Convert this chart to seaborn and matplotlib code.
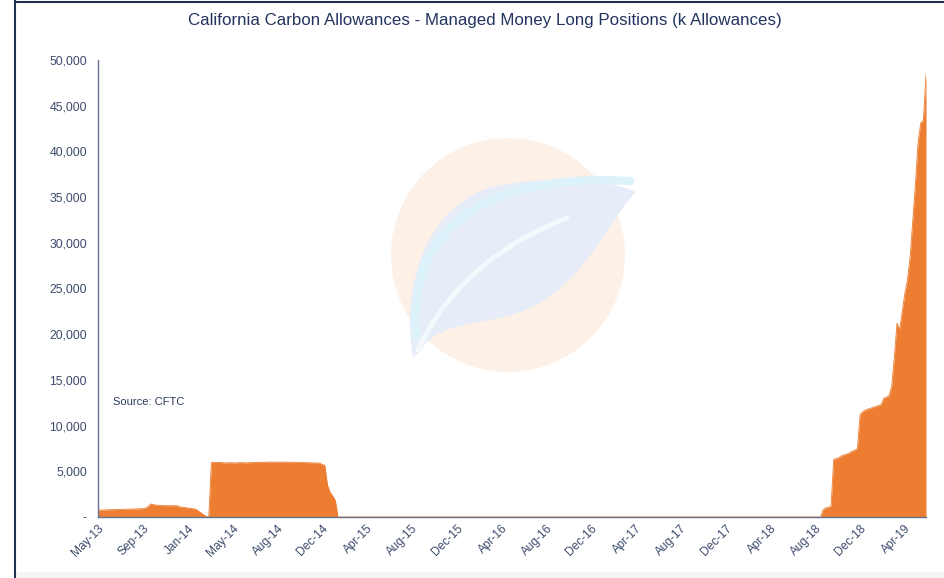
import numpy as np
import pandas as pd
import matplotlib
matplotlib.use("Agg")
import matplotlib.pyplot as plt
import seaborn as sns
from matplotlib.patches import Ellipse, PathPatch, Rectangle
from matplotlib.path import Path
from matplotlib.lines import Line2D

# Weekly managed money long positions (k allowances), May-13 .. Jun-19
early_2013 = [750, 760, 770, 780, 790, 800, 810, 815, 820, 830, 840, 850,
              860, 870, 880, 890, 900, 910, 950, 1150, 1420, 1350, 1300, 1270,
              1250, 1240, 1240, 1240, 1230, 1240, 1230, 1100, 1070, 1030, 990,
              950, 910, 860, 660, 460, 260, 80, 0]
block_2014 = [5950, 5960, 5980, 5970, 5940, 5930, 5920, 5940, 5930, 5920,
              5940, 5950, 5940, 5930, 5940, 5950, 5960, 5980, 5990, 6000,
              6010, 6000, 6010, 6020, 6010, 6000, 6010, 6000, 6010, 6000,
              5990, 5980, 5990, 5980, 5970, 5960, 5950, 5940, 5930, 5930,
              5920, 5900, 5750, 5650, 3500, 2700, 2300, 1800, 0]
flat_2015_2018 = [0] * 183
late_2018_2019 = [800, 1000, 1050, 1200, 6300, 6400, 6500, 6700, 6800, 6900,
                  7000, 7200, 7300, 7500, 11200, 11500, 11700, 11800, 11900,
                  12000, 12100, 12200, 12300, 13000, 13100, 13300, 14300,
                  17500, 21200, 20500, 22500, 24500, 26000, 28500, 32500,
                  36500, 41000, 43100, 43400, 48400]

long_positions = early_2013 + block_2014 + flat_2015_2018 + late_2018_2019

tick_labels = ["May-13", "Sep-13", "Jan-14", "May-14", "Aug-14", "Dec-14",
               "Apr-15", "Aug-15", "Dec-15", "Apr-16", "Aug-16", "Dec-16",
               "Apr-17", "Aug-17", "Dec-17", "Apr-18", "Aug-18", "Dec-18",
               "Apr-19"]
weeks_per_label = 17

y_ticks = [0, 5000, 10000, 15000, 20000, 25000, 30000, 35000, 40000, 45000, 50000]
y_tick_labels = ["-"] + [f"{v:,}" for v in y_ticks[1:]]

df = pd.DataFrame({"week": np.arange(len(long_positions)), "long": long_positions})

sns.set_theme(style="white")
plt.rcParams["font.family"] = ["Liberation Sans", "DejaVu Sans"]

W, H = 945, 578
fig = plt.figure(figsize=(W / 100, H / 100), dpi=100)
fig.patch.set_facecolor("white")


def px(x, y):
    return (x / W, 1 - y / H)


def curve(points, codes, **kw):
    return PathPatch(Path([px(*p) for p in points], codes), transform=fig.transFigure, **kw)


M, C4, CL = Path.MOVETO, Path.CURVE4, Path.CLOSEPOLY

# watermark logo (faint circle + leaf)
fig.patches.append(Ellipse(px(508, 255), 234 / W, 234 / H, transform=fig.transFigure,
                           facecolor="#FDF0E6", edgecolor="none", zorder=0))
leaf = [(413, 357), (400, 280), (430, 200), (500, 185), (560, 175), (610, 180),
        (636, 192), (600, 230), (580, 300), (500, 318), (460, 325), (430, 330),
        (420, 352), (413, 357)]
fig.patches.append(curve(leaf, [M, C4, C4, C4, C4, C4, C4, C4, C4, C4, C4, C4, C4, CL],
                         facecolor="#E6EDF8", edgecolor="none", zorder=0))
fig.patches.append(curve([(416, 335), (408, 240), (470, 172), (630, 181)], [M, C4, C4, C4],
                         facecolor="none", edgecolor="#DDF3FB", lw=6, capstyle="round", zorder=0))
fig.patches.append(curve([(418, 350), (450, 280), (510, 240), (567, 218)], [M, C4, C4, C4],
                         facecolor="none", edgecolor="#F2FAFD", lw=3.5, capstyle="round", zorder=0))

# frame of the screenshot
fig.add_artist(Line2D([15 / W, 15 / W], [0, 1], transform=fig.transFigure, color="#1F2F50", lw=1.5))
fig.add_artist(Line2D([15 / W, 1], [1 - 2 / H, 1 - 2 / H], transform=fig.transFigure, color="#1F2F50", lw=1.5))
fig.patches.append(Rectangle((16 / W, 0), 1, 6 / H, transform=fig.transFigure,
                             facecolor="#F3F5F7", edgecolor="none", zorder=0))

ax = fig.add_axes([98 / W, 1 - 517 / H, (926 - 98) / W, (517 - 60) / H])
ax.patch.set_alpha(0)

orange = "#ED7D31"
ax.fill_between(df["week"], 0, df["long"], color=orange, linewidth=0, zorder=2)
sns.lineplot(data=df, x="week", y="long", ax=ax, color=orange, lw=0.6, zorder=3)

ax.set_xlim(0, len(long_positions) - 1)
ax.set_ylim(0, 50000)

tick_pos = [i * weeks_per_label for i in range(len(tick_labels))]
ax.set_xticks(tick_pos)
ax.set_xticklabels(tick_labels, rotation=45, ha="right", rotation_mode="anchor",
                   fontsize=8.6, color="#3B4A6B")
ax.set_yticks(y_ticks)
ax.set_yticklabels(y_tick_labels, fontsize=8.8, color="#3B4A6B")
ax.tick_params(axis="both", length=0)
ax.tick_params(axis="x", pad=4)
ax.tick_params(axis="y", pad=8)
ax.set_xlabel("")
ax.set_ylabel("")

for side in ["top", "right"]:
    ax.spines[side].set_visible(False)
for side in ["left", "bottom"]:
    ax.spines[side].set_color("#66738F")
    ax.spines[side].set_linewidth(1.0)
    ax.spines[side].set_zorder(4)

ax.text(5.5, 12600, "Source: CFTC", fontsize=8, color="#2B3A5C", va="center")

fig.text(485 / W, 1 - 20 / H, "California Carbon Allowances - Managed Money Long Positions (k Allowances)",
         ha="center", va="center", fontsize=12.2, color="#23345E")

fig.savefig("out.png", dpi=100)
